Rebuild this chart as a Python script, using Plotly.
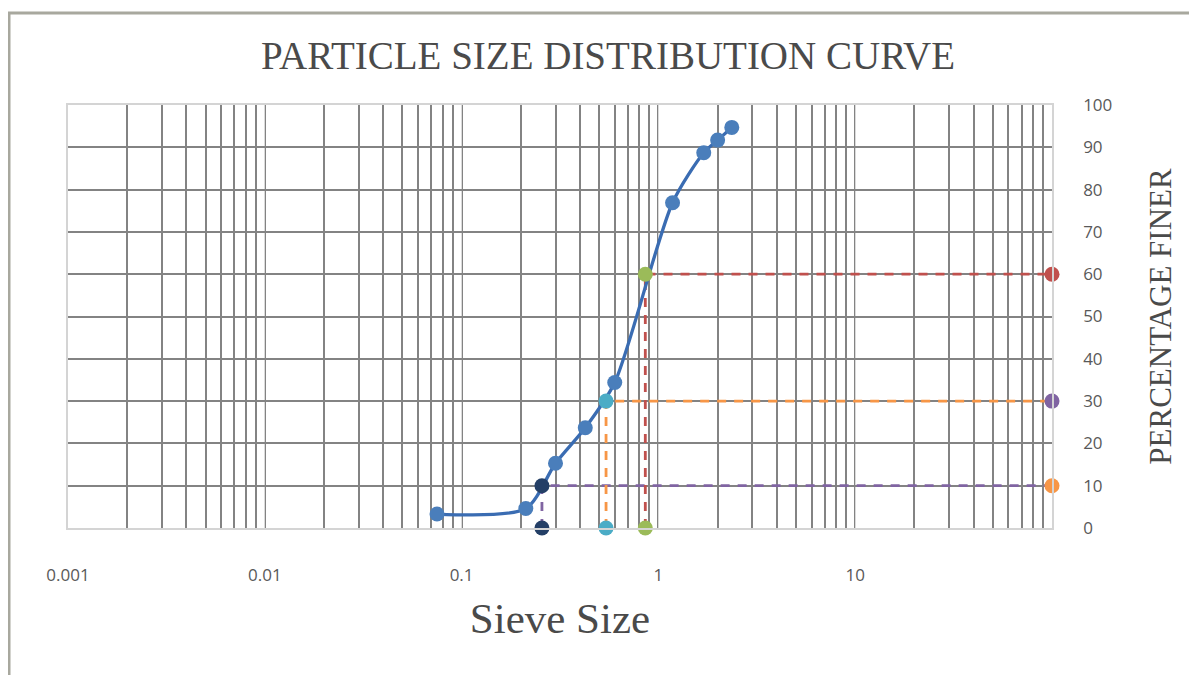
import plotly.graph_objects as go

# ---- data ----
sieve_size = [0.075, 0.212, 0.3, 0.425, 0.6, 1.18, 1.7, 2.0, 2.36]
pct_finer = [3.3, 4.6, 15.3, 23.7, 34.4, 76.9, 88.7, 91.7, 94.7]

d_names = ["D10", "D30", "D60"]
d_sizes = [0.256, 0.542, 0.858]
d_pct = [10, 30, 60]
d_point_colors = ["#243f66", "#4bacc6", "#9bbb59"]
d_line_colors = ["#8064a2", "#f79646", "#c0504d"]
d_end_colors = ["#f79646", "#8064a2", "#c0504d"]

x_tickvals = [0.001, 0.01, 0.1, 1, 10]
x_ticktext = ["0.001", "0.01", "0.1", "1", "10"]
x_max = 100
y_ticks = [0, 10, 20, 30, 40, 50, 60, 70, 80, 90, 100]

# page offset of the figure inside the browser (body margin)
OFF = 8
W, H = 1197, 675
# plot area in screen pixels
PX0, PX1, PY0, PY1 = 68, 1052, 105, 528
L = PX0 - OFF
T = PY0 - OFF
R = W - (PX1 - OFF)
B = H - (PY1 - OFF)

fig = go.Figure()

# dashed guide lines
for name, xs, yp, lc in zip(d_names, d_sizes, d_pct, d_line_colors):
    fig.add_trace(go.Scatter(
        x=[xs, xs, x_max], y=[0, yp, yp], mode="lines",
        line=dict(color=lc, width=2.8, dash="9px,8px"),
        hoverinfo="skip", showlegend=False, cliponaxis=False))

# main curve
fig.add_trace(go.Scatter(
    x=sieve_size, y=pct_finer, mode="lines+markers",
    line=dict(color="#3a6cb2", width=3.3, shape="spline", smoothing=0.75),
    marker=dict(color="#4a7ebb", size=15),
    name="Percentage finer", showlegend=False, cliponaxis=False))

# D points on curve and on axis
for name, xs, yp, pc, ec in zip(d_names, d_sizes, d_pct, d_point_colors, d_end_colors):
    fig.add_trace(go.Scatter(
        x=[xs, xs], y=[yp, 0], mode="markers",
        marker=dict(color=pc, size=15),
        name=name, showlegend=False, cliponaxis=False))
    fig.add_trace(go.Scatter(
        x=[x_max], y=[yp], mode="markers",
        marker=dict(color=ec, size=15),
        name=name + " level", showlegend=False, cliponaxis=False))

# outer chart frame (screen px -> paper)
pw = PX1 - PX0
ph = PY1 - PY0
def px2paper_x(px):
    return (px - PX0) / pw
def px2paper_y(py):
    return (PY1 - py) / ph

fig.add_shape(type="rect", xref="paper", yref="paper",
              x0=px2paper_x(9), x1=px2paper_x(W + 20),
              y0=px2paper_y(H + 20), y1=px2paper_y(13),
              line=dict(color="#a8a89e", width=3), fillcolor="rgba(0,0,0,0)",
              layer="below")

tick_font = dict(family="Open Sans", size=17, color="#595959")

fig.update_layout(
    width=W, height=H,
    margin=dict(l=L, r=R, t=T, b=B, autoexpand=False),
    paper_bgcolor="white", plot_bgcolor="white",
    title=dict(text="PARTICLE SIZE DISTRIBUTION CURVE",
               font=dict(family="Liberation Serif", size=39, color="#4a4a4a"),
               x=(608 - OFF) / W, xanchor="center", y=1 - (55 - OFF) / H, yanchor="middle",
               xref="container", yref="container"),
    xaxis=dict(
        type="log", range=[-3, 2],
        tickvals=x_tickvals, ticktext=x_ticktext,
        showgrid=True, gridcolor="#dadada", gridwidth=1.3,
        minor=dict(dtick="D1", showgrid=True, gridcolor="#838383", gridwidth=1.7, ticks=""),
        ticks="", ticklabelstandoff=31,
        tickfont=tick_font,
        showline=True, linecolor="#d4d4d4", linewidth=1.5, mirror=True,
        zeroline=False,
        title=dict(text="Sieve Size", standoff=18,
                   font=dict(family="Liberation Serif", size=43, color="#4a4a4a")),
    ),
    yaxis=dict(
        side="right", range=[0, 100], tickvals=y_ticks,
        showgrid=True, gridcolor="#838383", gridwidth=1.7,
        ticks="", ticklabelstandoff=26,
        tickfont=tick_font,
        showline=True, linecolor="#d4d4d4", linewidth=1.5, mirror=True,
        zeroline=False,
        title=dict(text="PERCENTAGE FINER", standoff=38,
                   font=dict(family="Liberation Serif", size=31, color="#4a4a4a")),
    ),
)

fig.write_html("out.html")
